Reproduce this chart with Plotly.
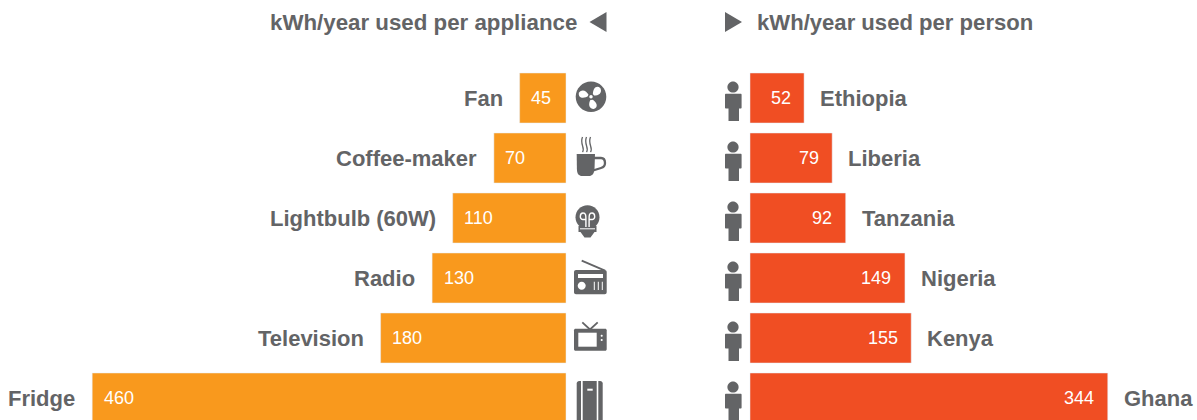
import re
import math
import plotly.graph_objects as go

appliances = ["Fan", "Coffee-maker", "Lightbulb (60W)", "Radio", "Television", "Fridge"]
appliance_kwh = [45, 70, 110, 130, 180, 460]
countries = ["Ethiopia", "Liberia", "Tanzania", "Nigeria", "Kenya", "Ghana"]
person_kwh = [52, 79, 92, 149, 155, 344]

title_left = "kWh/year used per appliance"
title_right = "kWh/year used per person"

GREY = "#636466"
ORANGE = "#F9991D"
RED = "#F04E23"
WHITE = "#FFFFFF"
FONT = "Liberation Sans"
W, H = 1197, 420
SPLIT = 660
BASE_L, BASE_R = 566, 750
PX_L, PX_R = 1.03, 1.04


def flip(path):
    """Icon paths are written with y pointing down; pixel-sized shapes want y up."""
    out = []
    for cmd, args in re.findall(r"([MLCZ])([^MLCZ]*)", path):
        nums = [float(v) for v in args.replace(",", " ").split()]
        pts = [f"{nums[i]:.2f},{-nums[i + 1]:.2f}" for i in range(0, len(nums), 2)]
        out.append(cmd + " ".join(pts))
    return "".join(out)


def circle(cx, cy, r):
    k = 0.5523 * r
    return (f"M{cx + r} {cy}C{cx + r} {cy + k} {cx + k} {cy + r} {cx} {cy + r}"
            f"C{cx - k} {cy + r} {cx - r} {cy + k} {cx - r} {cy}"
            f"C{cx - r} {cy - k} {cx - k} {cy - r} {cx} {cy - r}"
            f"C{cx + k} {cy - r} {cx + r} {cy - k} {cx + r} {cy}Z")


def rect(x0, y0, x1, y1):
    return f"M{x0} {y0}L{x1} {y0}L{x1} {y1}L{x0} {y1}Z"


def rrect(x0, y0, x1, y1, r):
    k = r * 0.45
    return (f"M{x0 + r} {y0}L{x1 - r} {y0}C{x1 - k} {y0} {x1} {y0 + k} {x1} {y0 + r}"
            f"L{x1} {y1 - r}C{x1} {y1 - k} {x1 - k} {y1} {x1 - r} {y1}"
            f"L{x0 + r} {y1}C{x0 + k} {y1} {x0} {y1 - k} {x0} {y1 - r}"
            f"L{x0} {y0 + r}C{x0} {y0 + k} {x0 + k} {y0} {x0 + r} {y0}Z")


def blade(cx, cy, deg):
    a = math.radians(deg)
    s = 1.08
    def rot(x, y):
        x, y = x * s, y * s
        return (cx + x * math.cos(a) - y * math.sin(a), cy + x * math.sin(a) + y * math.cos(a))
    p = [rot(*q) for q in [(2, 0), (5, -6), (10, -7), (11.5, -2.5), (11, 2), (7, 3), (2, 0)]]
    return (f"M{p[0][0]} {p[0][1]}C{p[1][0]} {p[1][1]} {p[2][0]} {p[2][1]} {p[3][0]} {p[3][1]}"
            f"C{p[4][0]} {p[4][1]} {p[5][0]} {p[5][1]} {p[6][0]} {p[6][1]}Z")


# Icon parts: (path, fill, stroke, stroke width); x from left edge of icon column, y from row centre
def fan():
    cx, cy = 25, -1.3
    parts = [(circle(cx, cy, 15.3), GREY, None, 0)]
    for d in (90, 210, 330):
        parts.append((blade(cx, cy, d), WHITE, None, 0))
    parts.append((circle(cx, cy, 3.2), GREY, None, 0))
    parts.append((circle(cx, cy, 1.7), WHITE, None, 0))
    return parts


def coffee():
    parts = [
        ("M27 0L35 0C38 0 39 2 39 5C39 8 37 9.5 35 10L27 12.5", None, GREY, 2.3),
        ("M10.7 -4L29 -4L28.5 11C28 16 26 18 23 18L16 18C13 18 11 16 10.9 11Z", GREY, None, 0),
    ]
    for x in (16.5, 20.5, 24.5):
        parts.append((f"M{x} -6C{x + 3} -10 {x - 3} -14 {x} -21", None, GREY, 1.3))
    return parts


def bulb():
    c = 21.5
    return [
        (circle(c, -0.7, 12), GREY, None, 0),
        (f"M{c - 9} 8L{c + 9} 8L{c + 9} 14L{c + 7} 14L{c + 3} 19.5L{c - 3} 19.5L{c - 7} 14L{c - 9} 14Z", GREY, None, 0),
        (f"M{c - 1.6} 9L{c - 1.6} 1.5L{c - 5} 1.5C{c - 8} 1.5 {c - 8} -5 {c - 4.5} -5"
         f"C{c - 1.5} -5 {c - 1.6} -2 {c - 1.6} 1.5", None, WHITE, 1.4),
        (f"M{c + 1.6} 9L{c + 1.6} 1.5L{c + 5} 1.5C{c + 8} 1.5 {c + 8} -5 {c + 4.5} -5"
         f"C{c + 1.5} -5 {c + 1.6} -2 {c + 1.6} 1.5", None, WHITE, 1.4),
        (rect(c - 7.5, 10.3, c + 7.5, 11.3), WHITE, None, 0),
    ]


def radio():
    parts = [
        ("M15.7 -17.3L39 -7.3", None, GREY, 1.8),
        (rrect(8, -8, 40.7, 16.3, 2), GREY, None, 0),
        (rect(12, -4, 37, 0), WHITE, None, 0),
        (circle(15.7, 7.7, 4), WHITE, None, 0),
    ]
    for x in (28.3, 32.3, 36.3):
        parts.append((rect(x - 0.5, 3.7, x + 0.5, 12), WHITE, None, 0))
    return parts


def television():
    return [
        ("M16.3 -15.7L24 -8.5L31.7 -15.7", None, GREY, 1.8),
        (rrect(8, -9.3, 40.7, 12.7, 1.5), GREY, None, 0),
        (rect(12.3, -5.3, 30.7, 8.7), WHITE, None, 0),
        (circle(35.7, -2.3, 1), WHITE, None, 0),
        (circle(35.7, 2, 1), WHITE, None, 0),
    ]


def fridge():
    return [
        (rrect(10.7, -17, 36.7, 26, 2.5), GREY, None, 0),
        (rect(15, -18, 16.7, 27), WHITE, None, 0),
        (rect(30.7, -18, 32.3, 27), WHITE, None, 0),
        (rect(21.3, -9.3, 26.7, -7.3), WHITE, None, 0),
    ]


PERSON = [
    (circle(-17, -11, 5.6), GREY, None, 0),
    (rrect(-25, -4.2, -8.4, 10.5, 1), GREY, None, 0),
    (rect(-21.5, 9, -11, 23), GREY, None, 0),
]

ICONS = [fan(), coffee(), bulb(), radio(), television(), fridge()]

fig = go.Figure()
fig.add_trace(go.Bar(y=appliances, x=appliance_kwh, orientation="h", marker_color=ORANGE,
                     xaxis="x", yaxis="y", width=50 / 60, hoverinfo="skip"))
fig.add_trace(go.Bar(y=countries, x=person_kwh, orientation="h", marker_color=RED,
                     xaxis="x2", yaxis="y2", width=50 / 60, hoverinfo="skip"))

annotations = []
shapes = []


def note(text, x, xref, y, yref, xshift, anchor, size, bold, color):
    annotations.append(dict(
        text=f"<b>{text}</b>" if bold else text, x=x, y=y, xref=xref, yref=yref,
        xshift=xshift, xanchor=anchor, yanchor="middle", showarrow=False,
        align="left", font=dict(family=FONT, size=size, color=color),
    ))


def add_icon(parts, xref, yref, row):
    for path, fill, stroke, width in parts:
        shapes.append(dict(
            type="path", path=flip(path), xref=xref, yref=yref, xsizemode="pixel", ysizemode="pixel",
            xanchor=0, yanchor=row, fillcolor=fill or "rgba(0,0,0,0)", layer="above",
            line=dict(color=stroke or "rgba(0,0,0,0)", width=width),
        ))


for i, (name, v) in enumerate(zip(appliances, appliance_kwh)):
    note(name, v, "x", name, "y", -15, "right", 22, True, GREY)
    note(str(v), v, "x", name, "y", 9.5, "left", 18, False, WHITE)
    add_icon(ICONS[i], "x", "y", i)

for i, (name, v) in enumerate(zip(countries, person_kwh)):
    note(name, v, "x2", name, "y2", 14, "left", 22, True, GREY)
    note(str(v), v, "x2", name, "y2", -11.5, "right", 18, False, WHITE)
    add_icon(PERSON, "x2", "y2", i)

annotations.append(dict(text=f"<b>{title_left}</b>", xref="paper", yref="paper",
                        x=579 / W, y=1 - 22.5 / H, xanchor="right", yanchor="middle", showarrow=False,
                        font=dict(family=FONT, size=22.3, color=GREY)))
annotations.append(dict(text=f"<b>{title_right}</b>", xref="paper", yref="paper",
                        x=754.5 / W, y=1 - 22.5 / H, xanchor="left", yanchor="middle", showarrow=False,
                        font=dict(family=FONT, size=22.1, color=GREY)))
shapes.append(dict(type="path", xref="paper", yref="paper", fillcolor=GREY, line=dict(width=0),
                   path=f"M{606.5 / W} {1 - 12 / H}L{589.5 / W} {1 - 22 / H}L{606.5 / W} {1 - 32 / H}Z"))
shapes.append(dict(type="path", xref="paper", yref="paper", fillcolor=GREY, line=dict(width=0),
                   path=f"M{725 / W} {1 - 12 / H}L{742 / W} {1 - 22 / H}L{725 / W} {1 - 32 / H}Z"))

cat_range = [(H - 98) / 60, -98 / 60]
hidden = dict(showgrid=False, zeroline=False, showticklabels=False, ticks="", showline=False, fixedrange=True)

fig.update_layout(
    width=W, height=H, autosize=False, margin=dict(l=0, r=0, t=0, b=0, pad=0),
    paper_bgcolor=WHITE, plot_bgcolor=WHITE, showlegend=False, barmode="overlay",
    annotations=annotations, shapes=shapes,
    xaxis=dict(domain=[0, SPLIT / W], range=[BASE_L / PX_L, (BASE_L - SPLIT) / PX_L], anchor="y", **hidden),
    xaxis2=dict(domain=[SPLIT / W, 1], range=[(SPLIT - BASE_R) / PX_R, (W - BASE_R) / PX_R], anchor="y2", **hidden),
    yaxis=dict(type="category", categoryorder="array", categoryarray=appliances, range=cat_range, anchor="x", **hidden),
    yaxis2=dict(type="category", categoryorder="array", categoryarray=countries, range=cat_range, anchor="x2", **hidden),
)

fig.write_html("out.html", config={"displayModeBar": False},
               post_script="document.body.style.margin='0';document.documentElement.style.overflow='hidden';")
